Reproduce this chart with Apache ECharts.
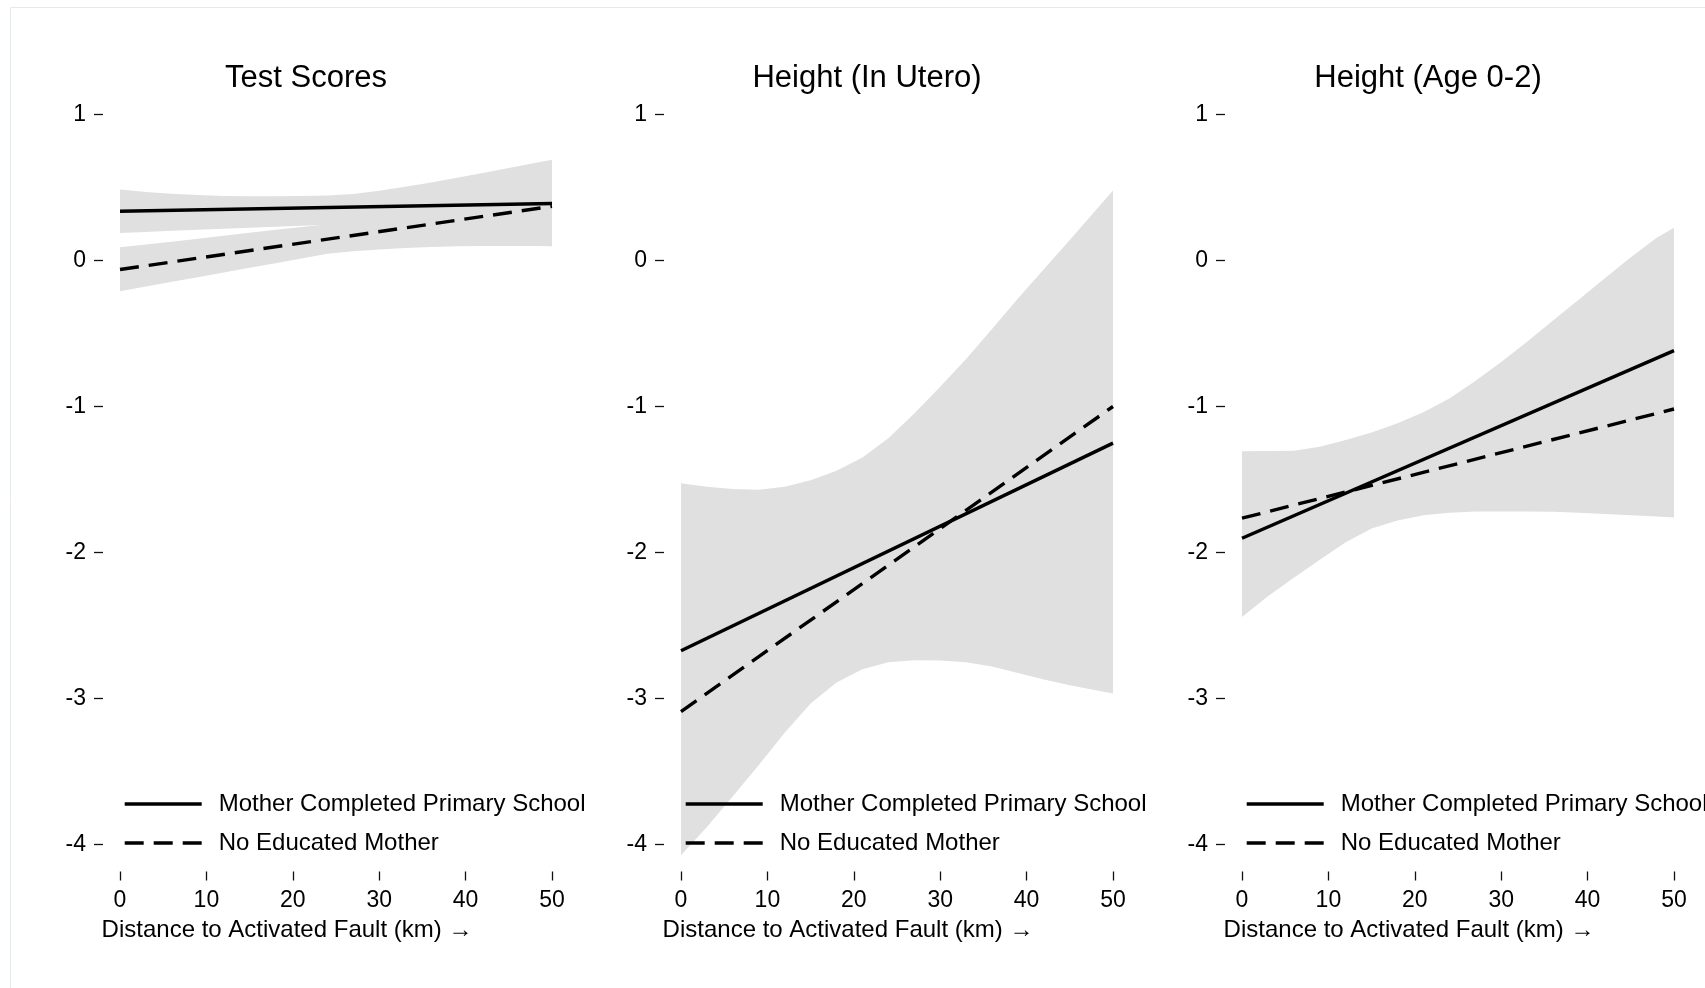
<!DOCTYPE html>
<html>
<head>
<meta charset="utf-8">
<script src="https://cdn.jsdelivr.net/npm/echarts@6/dist/echarts.min.js"></script>
<style>
  html, body { margin: 0; padding: 0; background: #fff; }
  #chart { width: 1705px; height: 988px; }
</style>
</head>
<body>
<div id="chart"></div>
<script>
// Distance grid (km) used for the confidence bands, and the end points of the fitted lines
const distanceKm = [0, 3, 6, 9, 12, 15, 18, 21, 24, 27, 30, 33, 36, 39, 42, 45, 48, 50];
const fitEndsKm = [0, 50];
const xTicks = [0, 10, 20, 30, 40, 50];
const yTicks = [-4, -3, -2, -1, 0, 1];

const seriesNames = ['Mother Completed Primary School', 'No Educated Mother'];
const panelTitles = ['Test Scores', 'Height (In Utero)', 'Height (Age 0-2)'];
const xAxisTitle = 'Distance to Activated Fault (km) \u2192';

// Test scores
const testPrimaryFit = [0.337, 0.39];
const testNoEduFit = [-0.062, 0.371];
const testPrimaryUpper = [0.486, 0.47, 0.458, 0.448, 0.442, 0.44, 0.44, 0.441, 0.445, 0.455, 0.478, 0.505, 0.535, 0.567, 0.6, 0.634, 0.668, 0.69];
const testPrimaryLower = [0.189, 0.196, 0.203, 0.21, 0.217, 0.224, 0.231, 0.238, 0.245, 0.245, 0.24, 0.23, 0.215, 0.195, 0.17, 0.14, 0.11, 0.098];
const testNoEduUpper = [0.091, 0.11, 0.129, 0.149, 0.169, 0.19, 0.21, 0.23, 0.248, 0.27, 0.295, 0.32, 0.35, 0.38, 0.41, 0.44, 0.47, 0.49];
const testNoEduLower = [-0.21, -0.178, -0.146, -0.114, -0.082, -0.05, -0.018, 0.014, 0.046, 0.064, 0.076, 0.085, 0.092, 0.097, 0.1, 0.1, 0.099, 0.098];

// Height, exposed in utero
const uteroPrimaryFit = [-2.673, -1.251];
const uteroNoEduFit = [-3.09, -1.0];
const uteroUpper = [-1.525, -1.55, -1.565, -1.57, -1.55, -1.505, -1.44, -1.35, -1.217, -1.048, -0.865, -0.675, -0.47, -0.26, -0.06, 0.14, 0.345, 0.48];
const uteroLower = [-4.073, -3.88, -3.67, -3.455, -3.235, -3.034, -2.89, -2.8, -2.752, -2.738, -2.74, -2.752, -2.78, -2.825, -2.87, -2.91, -2.943, -2.966];

// Height, exposed at age 0-2
const infantPrimaryFit = [-1.902, -0.617];
const infantNoEduFit = [-1.765, -1.017];
const infantUpper = [-1.307, -1.305, -1.303, -1.275, -1.23, -1.178, -1.115, -1.04, -0.946, -0.825, -0.695, -0.556, -0.411, -0.267, -0.122, 0.022, 0.155, 0.224];
const infantLower = [-2.441, -2.3, -2.173, -2.05, -1.93, -1.835, -1.78, -1.745, -1.728, -1.72, -1.719, -1.719, -1.721, -1.728, -1.737, -1.745, -1.754, -1.76];

const panels = [
  { fits: [testPrimaryFit, testNoEduFit], bands: [[testPrimaryLower, testPrimaryUpper], [testNoEduLower, testNoEduUpper]] },
  { fits: [uteroPrimaryFit, uteroNoEduFit], bands: [[uteroLower, uteroUpper]] },
  { fits: [infantPrimaryFit, infantNoEduFit], bands: [[infantLower, infantUpper]] }
];

// Layout
const FONT = '"Liberation Sans", Arial, Helvetica, sans-serif';
const PLOT_LEFT = [120, 681, 1242];
const PLOT_W = 432;
const PLOT_TOP = 114.5;
const PLOT_H = 730;
const BAND_COLOR = '#e0e0e0';
const LINE_W = 3.4;
const LINE_TYPES = ['solid', [19, 10]];

const chart = echarts.init(document.getElementById('chart'), null, { renderer: 'canvas' });

const grid = [], xAxis = [], yAxis = [], series = [], legend = [], graphic = [];

function bandSeries(idx, lower, upper) {
  const data = distanceKm.map((x, i) => [x, lower[i], upper[i]]);
  return {
    type: 'custom',
    xAxisIndex: idx,
    yAxisIndex: idx,
    silent: true,
    z: 1,
    data: data,
    encode: { x: 0, y: [1, 2] },
    renderItem: function (params, api) {
      if (params.dataIndex !== 0) return null;
      const pts = [];
      for (let i = 0; i < data.length; i++) pts.push(api.coord([data[i][0], data[i][2]]));
      for (let i = data.length - 1; i >= 0; i--) pts.push(api.coord([data[i][0], data[i][1]]));
      return { type: 'polygon', shape: { points: pts }, style: { fill: BAND_COLOR } };
    }
  };
}

panels.forEach(function (p, i) {
  const x0 = PLOT_LEFT[i];
  grid.push({ left: x0, top: PLOT_TOP, width: PLOT_W, height: PLOT_H, containLabel: false });
  xAxis.push({
    type: 'value', gridIndex: i,
    min: xTicks[0], max: xTicks[xTicks.length - 1], interval: 10,
    offset: 27,
    axisLine: { show: false, onZero: false },
    axisTick: { show: true, length: 9, lineStyle: { color: '#111', width: 1.3 } },
    axisLabel: { margin: 18, color: '#000', fontSize: 23, fontFamily: FONT },
    splitLine: { show: false }
  });
  yAxis.push({
    type: 'value', gridIndex: i,
    min: yTicks[0], max: yTicks[yTicks.length - 1], interval: 1,
    offset: 17,
    axisLine: { show: false, onZero: false },
    axisTick: { show: true, length: 9, lineStyle: { color: '#111', width: 1.3 } },
    axisLabel: { margin: 17, color: '#000', fontSize: 23, fontFamily: FONT },
    splitLine: { show: false }
  });
  p.bands.forEach(function (b) { series.push(bandSeries(i, b[0], b[1])); });
  p.fits.forEach(function (f, k) {
    series.push({
      type: 'line',
      name: seriesNames[k],
      xAxisIndex: i, yAxisIndex: i,
      data: fitEndsKm.map((x, j) => [x, f[j]]),
      symbol: 'none',
      silent: true,
      z: 3,
      lineStyle: { color: '#000', width: LINE_W, type: LINE_TYPES[k], cap: 'butt' },
      itemStyle: { color: '#000' }
    });
  });
  legend.push({
    show: true,
    orient: 'vertical',
    left: x0 + 3,
    top: 792,
    padding: 0,
    itemWidth: 77,
    itemHeight: 24,
    itemGap: 15,
    selectedMode: false,
    data: seriesNames,
    lineStyle: { width: LINE_W },
    itemStyle: { color: 'rgba(0,0,0,0)', borderColor: 'rgba(0,0,0,0)', borderWidth: 0 },
    textStyle: { color: '#000', fontSize: 24, fontFamily: FONT, lineHeight: 24, padding: [0, 0, 0, 12] }
  });
  graphic.push({
    type: 'text', x: x0 + 186, y: 78, silent: true,
    style: { text: panelTitles[i], fill: '#000', font: '31px ' + FONT, align: 'center', verticalAlign: 'middle', textAlign: 'center', textVerticalAlign: 'middle' }
  });
  graphic.push({
    type: 'text', x: x0 + 167, y: 930, silent: true,
    style: { text: xAxisTitle, fill: '#000', font: '24px ' + FONT, align: 'center', verticalAlign: 'middle', textAlign: 'center', textVerticalAlign: 'middle' }
  });
});

// Frame around the figure
graphic.push({
  type: 'rect', silent: true, z: -1,
  shape: { x: 10.5, y: 7.5, width: 1720, height: 1000 },
  style: { fill: 'none', stroke: '#e4eaea', lineWidth: 1 }
});

chart.setOption({
  backgroundColor: '#ffffff',
  animation: false,
  grid: grid,
  xAxis: xAxis,
  yAxis: yAxis,
  legend: legend,
  graphic: graphic,
  series: series
});
</script>
</body>
</html>
